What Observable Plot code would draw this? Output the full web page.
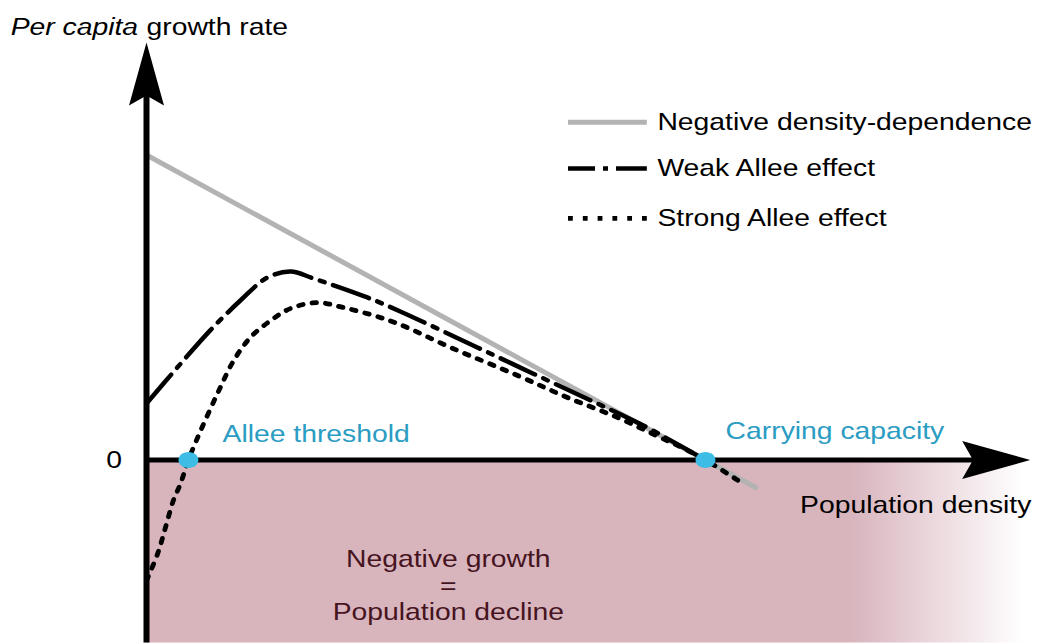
<!DOCTYPE html>
<html>
<head>
<meta charset="utf-8">
<script src="https://cdn.jsdelivr.net/npm/d3@7"></script>
<script src="https://cdn.jsdelivr.net/npm/@observablehq/plot@0.6"></script>
<style>
  body { margin: 0; background: #ffffff; }
  #chart svg { display: block; }
</style>
</head>
<body>
<div id="chart"></div>
<script>
// ---------- data (population density N, per capita growth rate r) ----------
const negDensity = [0, 109];
const negRate = [1, -0.09];

const weakDensity = [0, 5.5, 11.4, 16.8, 21.6, 25.8, 29.9, 39.5, 45.4, 59.2, 69.2, 79.4, 88.9, 96.1, 100, 101.5];
const weakRate = [0.185, 0.303, 0.425, 0.523, 0.598, 0.618, 0.595, 0.533, 0.487, 0.369, 0.283, 0.196, 0.113, 0.040, 0, -0.015];

const strongDensity = [0, 2.0, 3.4, 4.8, 6.1, 7.5, 9.7, 12.7, 15.6, 18.6, 22.2, 25.8, 30.6, 35.2, 40.6, 45.4, 54.4, 66.4, 75.3, 84.3, 91.9, 96.1, 100, 106.5];
const strongRate = [-0.395, -0.307, -0.221, -0.133, -0.077, 0, 0.097, 0.218, 0.326, 0.402, 0.457, 0.497, 0.516, 0.500, 0.474, 0.444, 0.369, 0.277, 0.205, 0.139, 0.074, 0.038, 0, -0.075];

const equilibriumDensity = [7.5, 100];           // Allee threshold, carrying capacity
const equilibriumLabels = ["Allee threshold", "Carrying capacity"];
const legendLabels = ["Negative density-dependence", "Weak Allee effect", "Strong Allee effect"];
const yTickLabels = ["0"];
const titleItalic = "Per capita";
const titleRest = "growth rate";
const xTitle = "Population density";
const declineLines = ["Negative growth", "=", "Population decline"];

// ---------- layout / style ----------
const X_MAX = 159.4, Y_MIN = -0.6, Y_MAX = 1.5;
const X_TIP = 158.1, Y_TIP = 1.369;
const FONT = 24, SX = 1.18;
const FAMILY = "'Liberation Sans', Arial, Helvetica, sans-serif";
const PINK = "#d8b4bd";
const BLUE_DOT = "#3dbde6", BLUE_TEXT = "#2b9cc2";
const GREY = "#b3b3b3";
const WEAK_DASH = "38,9,5,9", STRONG_DASH = "4.5,9";

const table = (xs, ys) => xs.map((n, i) => ({n, r: ys[i]}));
const negData = table(negDensity, negRate);
const weakData = table(weakDensity, weakRate);
const strongData = table(strongDensity, strongRate);
const eqData = equilibriumDensity.map((n, i) => ({n, r: 0, label: equilibriumLabels[i]}));
const legendRows = [1.107, 0.956, 0.792];
const legendData = legendLabels.map((label, i) => ({label, r: legendRows[i]}));

// custom symbols
const arrowHead = {
  draw(ctx, size) {
    const s = Math.sqrt(size / Math.PI) / 10;
    ctx.moveTo(0, 0);
    ctx.lineTo(17.5 * s, 63 * s);
    ctx.lineTo(0, 53 * s);
    ctx.lineTo(-17.5 * s, 63 * s);
    ctx.closePath();
  }
};
const ellipse = {
  draw(ctx, size) {
    const r = Math.sqrt(size / Math.PI);
    const rx = r * 1.25, ry = r, k = 0.5523;
    ctx.moveTo(rx, 0);
    ctx.bezierCurveTo(rx, ry * k, rx * k, ry, 0, ry);
    ctx.bezierCurveTo(-rx * k, ry, -rx, ry * k, -rx, 0);
    ctx.bezierCurveTo(-rx, -ry * k, -rx * k, -ry, 0, -ry);
    ctx.bezierCurveTo(rx * k, -ry, rx, -ry * k, rx, 0);
    ctx.closePath();
  }
};

const txt = {fontSize: FONT, fontFamily: FAMILY};

const chart = Plot.plot({
  width: 1037,
  height: 643,
  margin: 0,
  x: {domain: [0, X_MAX], range: [146, 1037], axis: null},
  y: {domain: [Y_MIN, Y_MAX], range: [642.5, 2], axis: null},
  style: {background: "#ffffff", fontFamily: FAMILY, overflow: "visible"},
  marks: [
    // negative-growth zone
    Plot.rect([{}], {x1: () => 0, x2: () => X_MAX, y1: () => Y_MIN, y2: () => 0, fill: "url(#pinkFade)"}),
    Plot.text([declineLines.join("\n")], {x: () => 54, y: () => -0.411, text: d => d, ...txt, fill: "#46141f", lineHeight: 1.1, textAnchor: "middle"}),

    // curves
    Plot.line(negData, {x: "n", y: "r", stroke: GREY, strokeWidth: 5}),
    Plot.line(weakData, {x: "n", y: "r", stroke: "#000", strokeWidth: 4.5, strokeDasharray: WEAK_DASH, curve: "catmull-rom"}),
    Plot.line(strongData, {x: "n", y: "r", stroke: "#000", strokeWidth: 4.8, strokeDasharray: STRONG_DASH, curve: "catmull-rom"}),

    // axes
    Plot.ruleY([0], {x1: () => 0, x2: () => X_TIP - 6, stroke: "#000", strokeWidth: 5}),
    Plot.ruleX([0], {y1: () => Y_MIN, y2: () => Y_TIP - 0.12, stroke: "#000", strokeWidth: 6}),
    Plot.dot([{n: 0, r: Y_TIP}], {x: "n", y: "r", symbol: arrowHead, r: 10, fill: "#000", stroke: null}),
    Plot.dot([{n: X_TIP, r: 0}], {x: "n", y: "r", symbol: arrowHead, r: 10.8, rotate: 90, fill: "#000", stroke: null}),

    // equilibria
    Plot.dot(eqData, {x: "n", y: "r", symbol: ellipse, r: 8, fill: BLUE_DOT, stroke: null}),
    Plot.text([eqData[0]], {x: () => 13.6, y: () => 0.084, text: "label", ...txt, fill: BLUE_TEXT, textAnchor: "start"}),
    Plot.text([eqData[1]], {x: () => 103.6, y: () => 0.095, text: "label", ...txt, fill: BLUE_TEXT, textAnchor: "start"}),

    // axis labels
    Plot.text(yTickLabels, {x: () => -5.8, y: () => 0, text: d => d, ...txt, fill: "#000"}),
    Plot.text([xTitle], {x: () => 158.3, y: () => -0.149, text: d => d, ...txt, fill: "#000", textAnchor: "end"}),
    Plot.text([titleItalic], {x: () => -24.3, y: () => 1.418, text: d => d, ...txt, fontStyle: "italic", fill: "#000", textAnchor: "start"}),
    Plot.text([titleRest], {x: () => 0, y: () => 1.418, text: d => d, ...txt, fill: "#000", textAnchor: "start"}),

    // legend
    Plot.ruleY([legendData[0]], {y: "r", x1: () => 75.5, x2: () => 89.6, stroke: GREY, strokeWidth: 5}),
    Plot.ruleY([legendData[1]], {y: "r", x1: () => 75.5, x2: () => 89.6, stroke: "#000", strokeWidth: 4.5, strokeDasharray: "27,8,5,8,40"}),
    Plot.ruleY([legendData[2]], {y: "r", x1: () => 75.5, x2: () => 89.6, stroke: "#000", strokeWidth: 4.8, strokeDasharray: "4.8,10"}),
    Plot.text(legendData, {x: () => 91.4, y: "r", text: "label", ...txt, fill: "#000", textAnchor: "start"})
  ]
});

// gradient for the fading negative-growth zone
const ns = "http://www.w3.org/2000/svg";
const defs = document.createElementNS(ns, "defs");
defs.innerHTML = `<linearGradient id="pinkFade" x1="0" x2="1" y1="0" y2="0">
  <stop offset="0" stop-color="${PINK}"/>
  <stop offset="0.79" stop-color="${PINK}"/>
  <stop offset="0.985" stop-color="#ffffff"/>
</linearGradient>`;
chart.insertBefore(defs, chart.firstChild);

// the reference lettering is horizontally wide: stretch each label about its anchor
chart.querySelectorAll("text").forEach(t => {
  const tr = t.getAttribute("transform");
  if (tr) t.setAttribute("transform", `${tr} scale(${SX},1)`);
});

document.getElementById("chart").appendChild(chart);
</script>
</body>
</html>
